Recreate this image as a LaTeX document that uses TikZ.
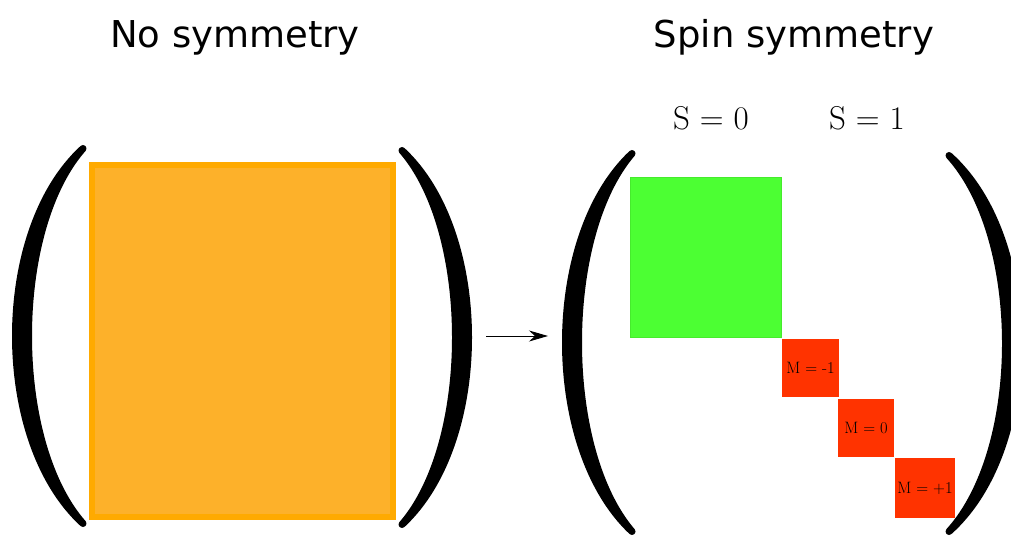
\documentclass[tikz,border=0pt]{standalone}
\usepackage{fontspec}
\newfontfamily\titlefont{DejaVu Sans}
\usetikzlibrary{arrows.meta}

\definecolor{blockorange}{RGB}{253,177,42}
\definecolor{edgeorange}{RGB}{255,170,0}
\definecolor{blockgreen}{RGB}{76,255,51}
\definecolor{edgegreen}{RGB}{70,235,45}
\definecolor{blockred}{RGB}{255,51,0}

% one matrix parenthesis: tip x, top y, bottom y, outer bulge x, inner bulge x
\newcommand\bracketshape[5]{%
  \pgfmathsetmacro\bkOut{(8*#4-2*#1)/6}%
  \pgfmathsetmacro\bkIn{(8*#5-2*#1)/6}%
  \pgfmathsetmacro\bkYa{#2+0.22*(#3-#2)}%
  \pgfmathsetmacro\bkYb{#2+0.78*(#3-#2)}%
  \filldraw[paren] (#1,#2) .. controls (\bkOut,\bkYa) and (\bkOut,\bkYb) .. (#1,#3)
    .. controls (\bkIn,\bkYb) and (\bkIn,\bkYa) .. cycle;}

\begin{document}
\begin{tikzpicture}[x=1pt,y=-1pt,
  title/.style={font=\titlefont\fontsize{37}{44}\selectfont, anchor=base, inner sep=0},
  spinlabel/.style={font=\fontsize{33}{40}\selectfont, anchor=base, inner sep=0},
  paren/.style={fill=black, draw=black, line width=7pt, line join=round},
  fullblock/.style={fill=blockorange, draw=edgeorange, line width=6pt, inner sep=0},
  singlet/.style={fill=blockgreen, draw=edgegreen, line width=0.8pt, inner sep=0},
  triplet/.style={fill=blockred, inner sep=0, font=\fontsize{16.5}{19}\selectfont},
  flow/.style={line width=1pt, -{Stealth[length=19pt,width=11pt,inset=6pt]}}]

\useasboundingbox (0,0) rectangle (1011,538);

% headings
\node[title] (hNone) at (235,47) {No symmetry};
\node[title] (hSpin) at (794,47) {Spin symmetry};

% dense matrix without symmetry
\node[fullblock, minimum width=301pt, minimum height=352pt] (full) at (242.5,341) {};
\bracketshape{83}{148.5}{523.5}{15.5}{28.5}
\bracketshape{402}{150.5}{524.5}{468.5}{455.5}

% transformation arrow
\coordinate (arrS) at (486,336);
\coordinate (arrE) at (548,336);
\draw[flow] (arrS) -- (arrE);

% block-diagonal matrix with spin symmetry
\node[spinlabel] (s0) at (711,129) {S = 0};
\node[spinlabel] (s1) at (867,129) {S = 1};

\node[singlet, minimum width=151pt, minimum height=160pt] (sing) at (705.5,257) {};
\node[triplet, minimum width=57pt, minimum height=58pt] (tm) at (810.5,368) {M = -1};
\node[triplet, minimum width=56pt, minimum height=58pt] (tz) at (866,428) {M = 0};
\node[triplet, minimum width=60pt, minimum height=60pt] (tp) at (925,488) {M = +1};

\bracketshape{632}{153.5}{531.5}{565.5}{578.5}
\bracketshape{949}{155.5}{531.5}{1018.5}{1005.5}
\end{tikzpicture}
\end{document}
